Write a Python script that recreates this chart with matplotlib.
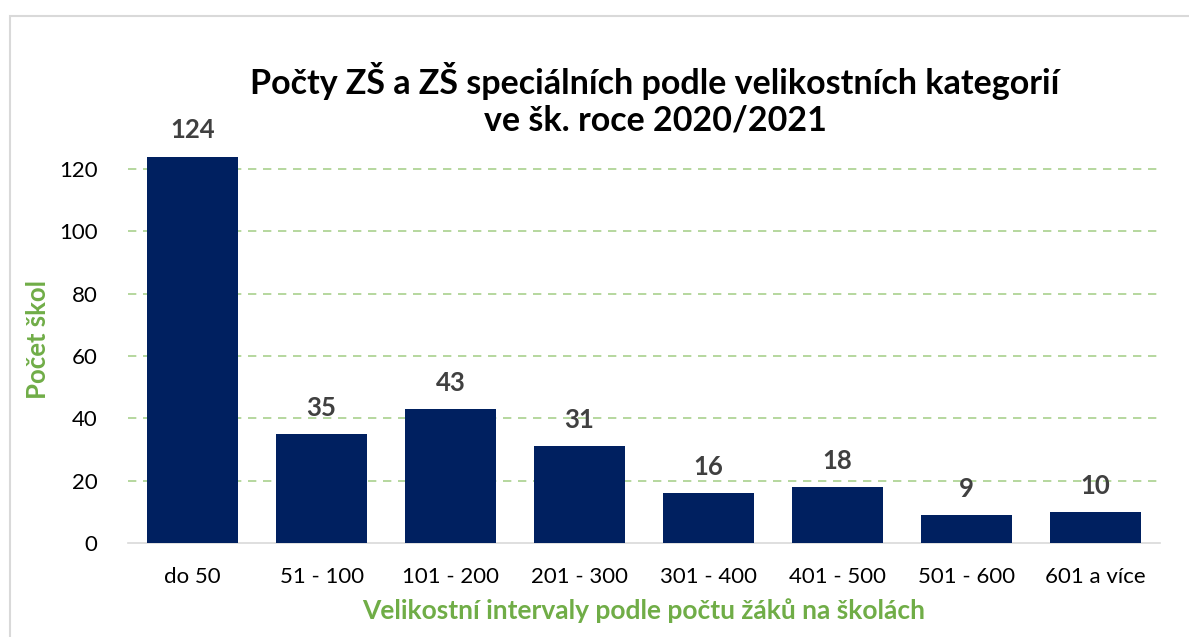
import matplotlib.pyplot as plt
from matplotlib.patches import Rectangle

plt.rcParams['font.family'] = ['Lato', 'DejaVu Sans']

categories = ['do 50', '51 - 100', '101 - 200', '201 - 300',
              '301 - 400', '401 - 500', '501 - 600', '601 a více']
counts = [124, 35, 43, 31, 16, 18, 9, 10]
y_ticks = [0, 20, 40, 60, 80, 100, 120]

C_BAR = '#002060'
C_GREEN = '#70AD47'
C_GRID = '#A9D18E'
C_LABEL = '#404040'

fig = plt.figure(figsize=(11.89, 6.37), dpi=100, facecolor='white')
ax = fig.add_axes([0.1077, 0.1476, 0.868, 0.685])

# light frame around the chart area, runs off right/bottom edge
fig.patches.append(Rectangle((10 / 1189, -0.1), 1.2, 1 - 16 / 637 + 0.1,
                             transform=fig.transFigure, fill=False,
                             edgecolor='#D9D9D9', linewidth=1.5))

x = range(len(categories))
bars = ax.bar(x, counts, width=0.705, color=C_BAR, zorder=3)

for xi, v in zip(x, counts):
    ax.text(xi, v + 4.5, str(v), ha='center', va='bottom',
            fontsize=18.5, fontweight='bold', color=C_LABEL)

ax.set_xlim(-0.5, len(categories) - 0.5)
ax.set_ylim(0, 140)
ax.set_yticks(y_ticks)
ax.set_xticks(list(x))
ax.set_xticklabels(categories)
ax.tick_params(axis='both', length=0, labelsize=16, colors='black')
ax.tick_params(axis='y', pad=22)
ax.tick_params(axis='x', pad=17)

ax.yaxis.grid(True, color=C_GRID, linestyle=(0, (5, 4)), linewidth=1.2, zorder=0)
for tick in ax.yaxis.get_gridlines()[:1]:
    tick.set_visible(False)
for s in ['top', 'right', 'left']:
    ax.spines[s].set_visible(False)
ax.spines['bottom'].set_color('#D9D9D9')
ax.spines['bottom'].set_linewidth(1.2)

ax.set_ylabel('Počet škol', fontsize=18.5, fontweight='bold', color=C_GREEN)
ax.yaxis.set_label_coords(-0.076, 0.466)
ax.set_xlabel('Velikostní intervaly podle počtu žáků na školách',
              fontsize=19, fontweight='bold', color=C_GREEN, labelpad=8)

fig.text(0.551, 0.785, 'Počty ZŠ a ZŠ speciálních podle velikostních kategorií\nve šk. roce 2020/2021',
         ha='center', va='bottom', fontsize=24.5, fontweight='bold',
         linespacing=1.2, color='black')

fig.savefig('out.png', dpi=100, facecolor='white')
